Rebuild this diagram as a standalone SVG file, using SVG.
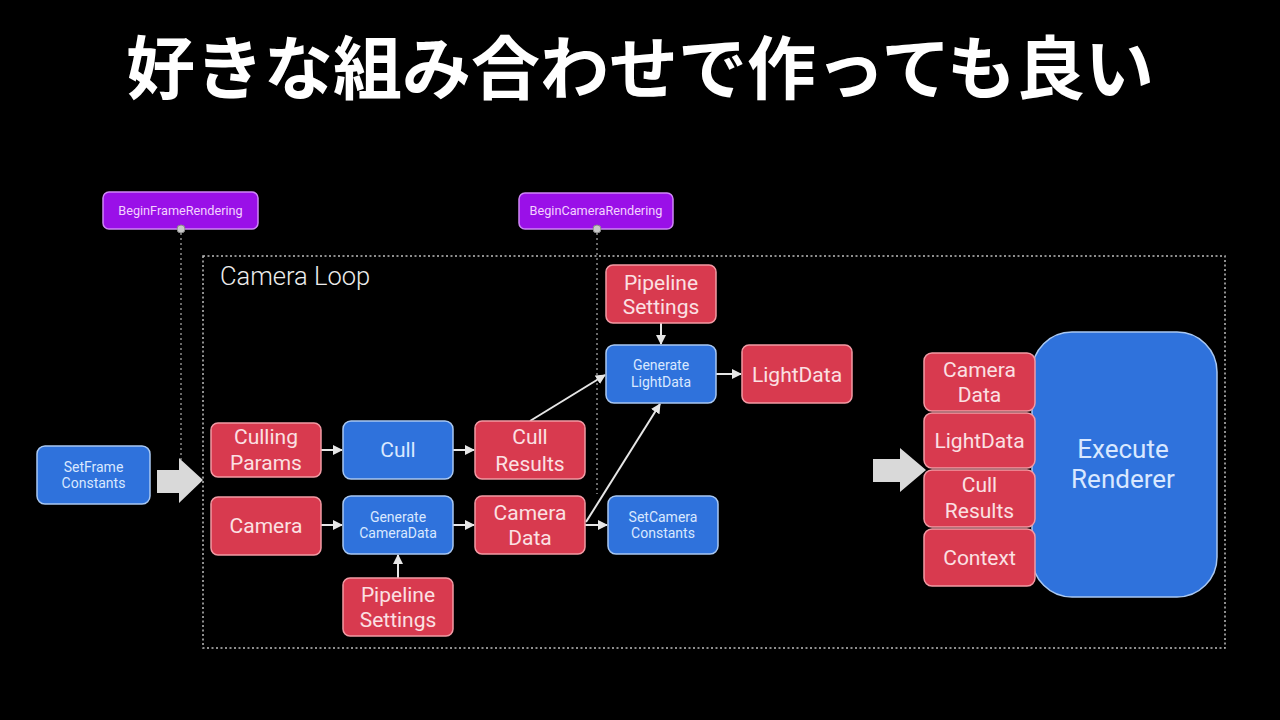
<svg xmlns="http://www.w3.org/2000/svg" width="1280" height="720" viewBox="0 0 1280 720">
  <style>
    .title { font-family: "Noto Sans CJK JP", "Noto Sans", sans-serif; font-weight: 700; font-size: 69px; fill: #ffffff; }
    .red rect { fill: #d83a4f; stroke: #f29aa4; stroke-width: 1.5; }
    .blue rect { fill: #2f72dc; stroke: #a9c8f2; stroke-width: 1.5; }
    .purple rect { fill: #9a10e8; stroke: #cf86f7; stroke-width: 1.5; }
    .red text { font-family: Roboto, "Liberation Sans", sans-serif; font-size: 21px; fill: #fbe0e3; text-anchor: middle; }
    .blue text { font-family: Roboto, "Liberation Sans", sans-serif; font-size: 14px; fill: #d9e8ff; text-anchor: middle; }
    .blue text.big { font-size: 21px; }
    .blue text.huge { font-size: 26px; }
    .purple text { font-family: Roboto, "Liberation Sans", sans-serif; font-size: 12.7px; fill: #f3d2ff; text-anchor: middle; }
    .loop { fill: none; stroke: #bdbdbd; stroke-width: 1.5; stroke-dasharray: 2 2.5; }
    .dots { stroke: #8a8a8a; stroke-width: 1.5; stroke-dasharray: 2 3; fill: none; }
    .edge { stroke: #e6e6e6; stroke-width: 2; fill: none; marker-end: url(#tip); }
    .bigarrow { fill: #d9d9d9; }
    .label { font-family: Roboto, "Liberation Sans", sans-serif; font-size: 25.5px; font-weight: 300; fill: #ececec; }
  </style>
  <defs>
    <marker id="tip" viewBox="0 0 10 10" refX="9" refY="5" markerWidth="5" markerHeight="5" orient="auto">
      <path d="M0,0 L10,5 L0,10 z" fill="#e6e6e6"/>
    </marker>
  </defs>

  <rect width="1280" height="720" fill="#000000"/>

  <text class="title" x="640" y="94" text-anchor="middle">好きな組み合わせで作っても良い</text>

  <!-- camera loop frame -->
  <rect class="loop" x="203" y="256" width="1022" height="392"/>
  <text class="label" x="220" y="285">Camera Loop</text>

  <!-- event hook lines -->
  <g id="hooks">
    <line class="dots" x1="181" y1="233" x2="181" y2="470"/>
    <line class="dots" x1="597" y1="233" x2="597" y2="494"/>
  </g>

  <g id="beginFrame" class="purple">
    <rect x="103" y="192" width="155" height="37" rx="6"/>
    <text x="180.5" y="215">BeginFrameRendering</text>
    <circle cx="181" cy="229" r="4" fill="#c9c9c9" stroke="#888" stroke-width="1"/>
  </g>
  <g id="beginCamera" class="purple">
    <rect x="519" y="193" width="154" height="36" rx="6"/>
    <text x="596" y="215">BeginCameraRendering</text>
    <circle cx="597" cy="229" r="4" fill="#c9c9c9" stroke="#888" stroke-width="1"/>
  </g>

  <!-- connectors -->
  <g id="connectors">
    <line class="edge" x1="321" y1="450" x2="342" y2="450"/>
    <line class="edge" x1="453" y1="450" x2="474" y2="450"/>
    <line class="edge" x1="321" y1="525" x2="342" y2="525"/>
    <line class="edge" x1="453" y1="525" x2="474" y2="525"/>
    <line class="edge" x1="585" y1="525" x2="607" y2="525"/>
    <line class="edge" x1="398" y1="578" x2="398" y2="555"/>
    <line class="edge" x1="530" y1="421" x2="605" y2="375"/>
    <line class="edge" x1="586" y1="522" x2="660" y2="404"/>
    <line class="edge" x1="661" y1="323" x2="661" y2="344"/>
    <line class="edge" x1="716" y1="374" x2="741" y2="374"/>
    <path class="bigarrow" d="M157,470 L179,470 L179,458 L203,480 L179,503 L179,493 L157,493 z"/>
    <path class="bigarrow" d="M873,459 L900,459 L900,448 L926,470 L900,492 L900,482 L873,482 z"/>
  </g>

  <g id="setFrameConstants" class="blue">
    <rect x="37" y="446" width="113" height="58" rx="8"/>
    <text x="93.5" y="472">SetFrame</text>
    <text x="93.5" y="488">Constants</text>
  </g>

  <g id="cullingParams" class="red">
    <rect x="211" y="423" width="110" height="54" rx="7"/>
    <text x="266" y="444">Culling</text>
    <text x="266" y="470">Params</text>
  </g>
  <g id="camera" class="red">
    <rect x="211" y="497" width="110" height="58" rx="7"/>
    <text x="266" y="533">Camera</text>
  </g>

  <g id="cull" class="blue">
    <rect x="343" y="421" width="110" height="58" rx="8"/>
    <text class="big" x="398" y="457">Cull</text>
  </g>
  <g id="generateCameraData" class="blue">
    <rect x="343" y="496" width="110" height="58" rx="8"/>
    <text x="398" y="522">Generate</text>
    <text x="398" y="538">CameraData</text>
  </g>
  <g id="pipelineSettingsCamera" class="red">
    <rect x="343" y="578" width="110" height="58" rx="7"/>
    <text x="398" y="602">Pipeline</text>
    <text x="398" y="627">Settings</text>
  </g>

  <g id="cullResults" class="red">
    <rect x="475" y="421" width="110" height="58" rx="7"/>
    <text x="530" y="444">Cull</text>
    <text x="530" y="471">Results</text>
  </g>
  <g id="cameraData" class="red">
    <rect x="475" y="496" width="110" height="58" rx="7"/>
    <text x="530" y="520">Camera</text>
    <text x="530" y="545">Data</text>
  </g>
  <g id="setCameraConstants" class="blue">
    <rect x="608" y="496" width="110" height="58" rx="8"/>
    <text x="663" y="522">SetCamera</text>
    <text x="663" y="538">Constants</text>
  </g>

  <g id="pipelineSettingsLight" class="red">
    <rect x="606" y="265" width="110" height="58" rx="7"/>
    <text x="661" y="290">Pipeline</text>
    <text x="661" y="314">Settings</text>
  </g>
  <g id="generateLightData" class="blue">
    <rect x="606" y="345" width="110" height="58" rx="8"/>
    <text x="661" y="370">Generate</text>
    <text x="661" y="387">LightData</text>
  </g>
  <g id="lightData" class="red">
    <rect x="742" y="345" width="110" height="58" rx="7"/>
    <text x="797" y="382">LightData</text>
  </g>

  <g id="executeRenderer" class="blue">
    <rect x="1032" y="332" width="185" height="265" rx="40"/>
    <text class="huge" x="1123" y="458">Execute</text>
    <text class="huge" x="1123" y="488">Renderer</text>
  </g>
  <g id="inCameraData" class="red">
    <rect x="924" y="353" width="111" height="58" rx="8"/>
    <text x="979.5" y="377">Camera</text>
    <text x="979.5" y="402">Data</text>
  </g>
  <g id="inLightData" class="red">
    <rect x="924" y="413" width="111" height="55" rx="8"/>
    <text x="979.5" y="448">LightData</text>
  </g>
  <g id="inCullResults" class="red">
    <rect x="924" y="470" width="111" height="57" rx="8"/>
    <text x="979.5" y="492">Cull</text>
    <text x="979.5" y="518">Results</text>
  </g>
  <g id="inContext" class="red">
    <rect x="924" y="529" width="111" height="57" rx="8"/>
    <text x="979.5" y="565">Context</text>
  </g>
</svg>
